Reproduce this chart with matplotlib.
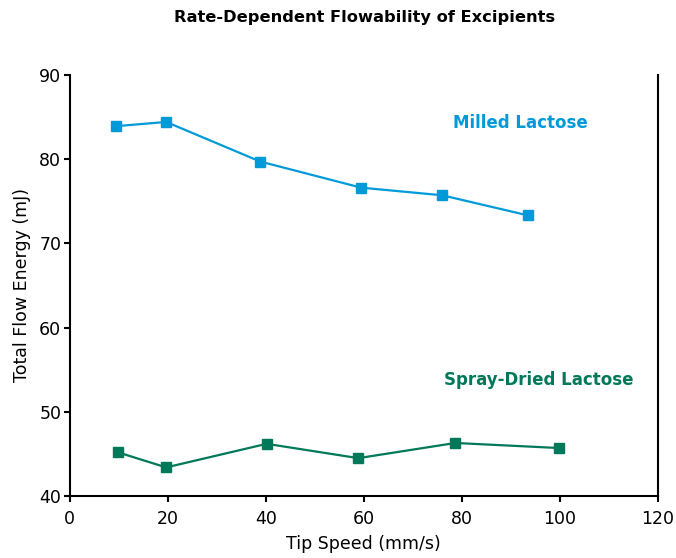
import numpy as np
import matplotlib
matplotlib.use('Agg')
from matplotlib import pyplot as plt

plt.rcParams['font.family'] = ['DejaVu Sans']

# tip speed (mm/s) and total flow energy (mJ)
milled_speed = [9.5, 19.7, 38.9, 59.5, 76.0, 93.6]
milled_tfe = [83.9, 84.4, 79.7, 76.6, 75.7, 73.3]
spray_speed = [9.8, 19.7, 40.2, 58.9, 78.7, 99.9]
spray_tfe = [45.2, 43.4, 46.2, 44.5, 46.3, 45.7]

x_ticks = [0, 20, 40, 60, 80, 100, 120]
y_ticks = [40, 50, 60, 70, 80, 90]

blue = '#009ad9'
green = '#00785a'

fig = plt.figure(figsize=(6.76, 5.58), dpi=100)
ax = fig.add_axes([0.103, 0.111, 0.870, 0.755])

ax.plot(milled_speed, milled_tfe, color=blue, lw=1.6, marker='s', ms=6.5)
ax.plot(spray_speed, spray_tfe, color=green, lw=1.6, marker='s', ms=6.5)

ax.set_xlim(0, 120)
ax.set_ylim(40, 90)
ax.set_xticks(x_ticks)
ax.set_yticks(y_ticks)
ax.tick_params(direction='out', length=4, width=1.5, labelsize=12.5, color='black')
ax.tick_params(axis='x', pad=6)
ax.tick_params(axis='y', pad=2)
for s in ['left', 'bottom', 'right']:
    ax.spines[s].set_linewidth(1.5)
ax.spines['top'].set_visible(False)

ax.set_xlabel('Tip Speed (mm/s)', fontsize=12.5, labelpad=5)
ax.set_ylabel('Total Flow Energy (mJ)', fontsize=12.5, labelpad=6)
fig.text(0.54, 0.969, 'Rate-Dependent Flowability of Excipients', ha='center', va='center',
         fontsize=11.7, fontweight='bold')

ax.text(92.0, 84.3, 'Milled Lactose', color=blue, fontsize=12, fontweight='bold', ha='center', va='center')
ax.text(95.7, 53.8, 'Spray-Dried Lactose', color=green, fontsize=12, fontweight='bold', ha='center', va='center')

fig.savefig('out.png', dpi=100)
